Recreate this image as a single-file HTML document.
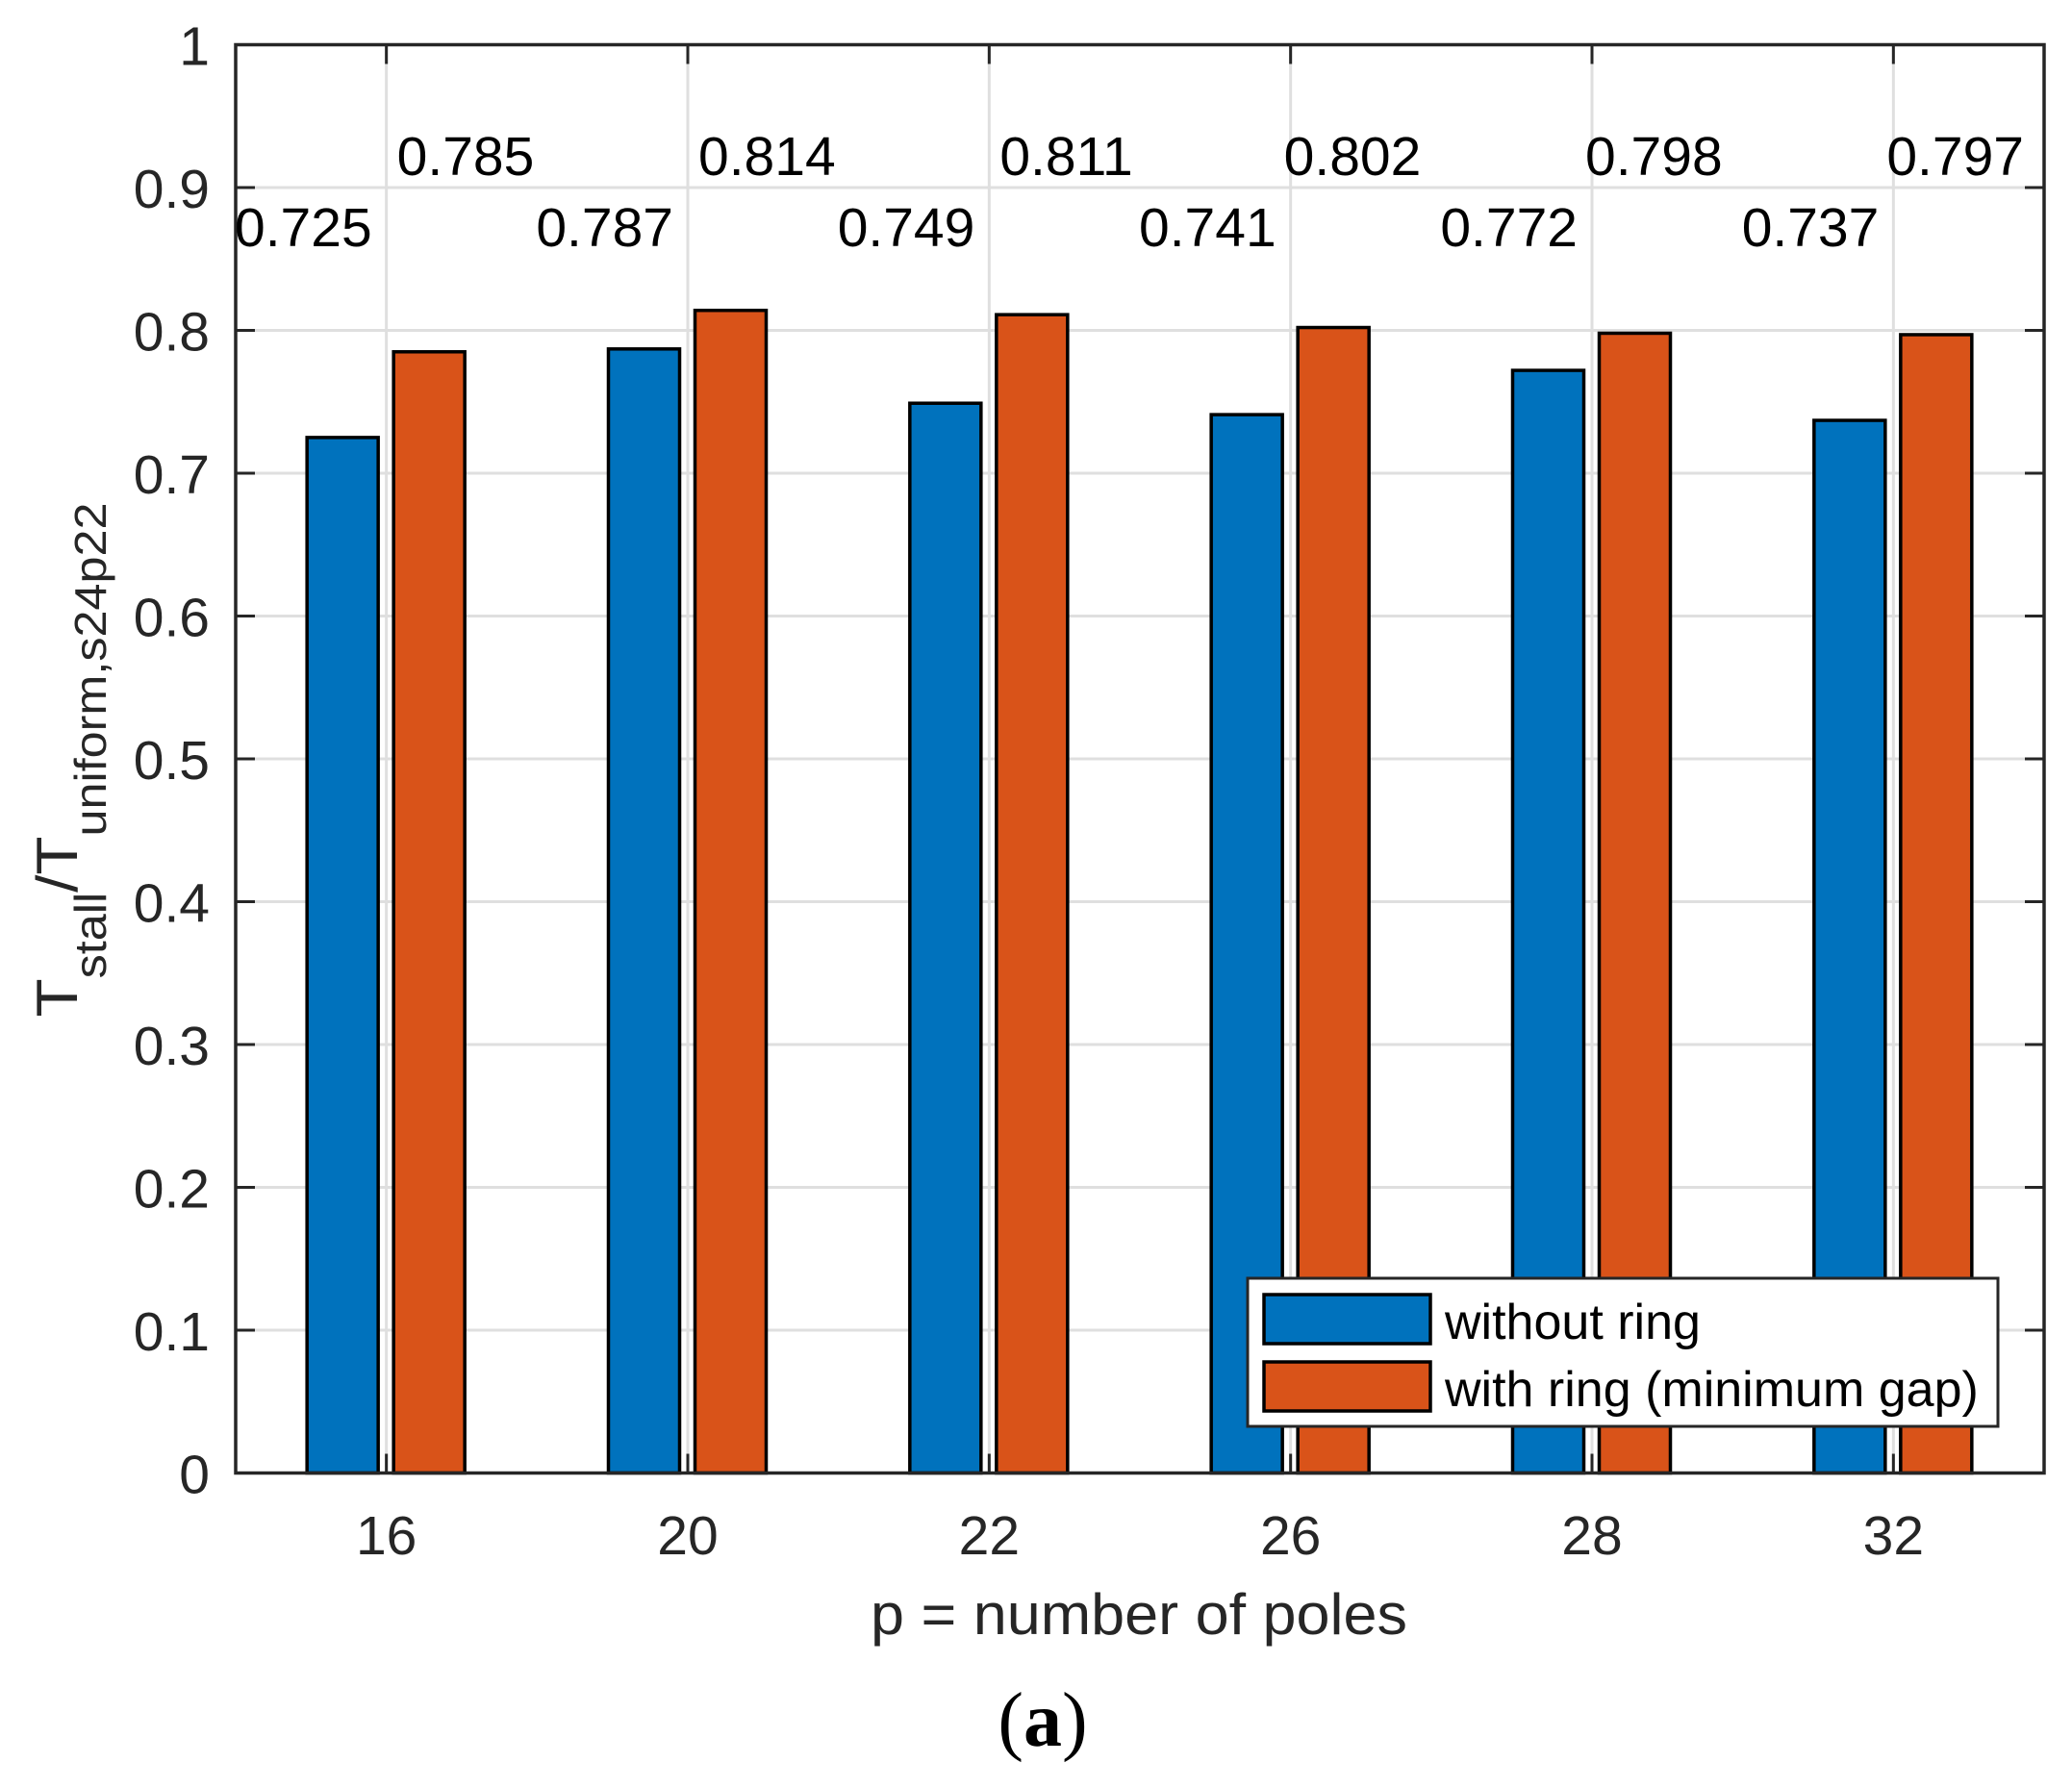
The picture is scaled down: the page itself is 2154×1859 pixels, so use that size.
<!DOCTYPE html>
<html><head><meta charset="utf-8"><title>Stall torque bar chart</title>
<style>
html,body{margin:0;padding:0;background:#fff;}
svg{display:block;}
text{font-family:"Liberation Sans",Arial,sans-serif;}
</style></head>
<body>
<svg id="chart" width="2154" height="1859" viewBox="0 0 2154 1859" xmlns="http://www.w3.org/2000/svg">
<rect x="0" y="0" width="2154" height="1859" fill="#fff"/>
<g id="grid"></g>
<g id="bars"></g>
<g id="axes"></g>
<g id="labels"></g>
<text transform="translate(80,790) rotate(-90)" text-anchor="middle" font-size="60" fill="#262626" textLength="535" lengthAdjust="spacingAndGlyphs">T<tspan font-size="46" dy="30">stall</tspan><tspan dy="-30">/T</tspan><tspan font-size="46" dy="30">uniform,s24p22</tspan></text>
<text x="1184" y="1699" text-anchor="middle" font-size="60" fill="#262626" textLength="558" lengthAdjust="spacingAndGlyphs">p = number of poles</text>
<text x="1084" y="1815" text-anchor="middle" font-size="80" fill="#000" style="font-family:'Liberation Serif',serif">(<tspan font-weight="bold">a</tspan>)</text>
<g>
<rect x="1297" y="1329" width="780" height="154" fill="#fff" stroke="#262626" stroke-width="3"/>
<rect x="1314" y="1346" width="173" height="51" fill="#0072bd" stroke="#000" stroke-width="3.5"/>
<text x="1502" y="1392" font-size="52" fill="#000">without ring</text>
<rect x="1314" y="1416" width="173" height="51" fill="#d95319" stroke="#000" stroke-width="3.5"/>
<text x="1502" y="1462" font-size="52" fill="#000">with ring (minimum gap)</text>
</g>
</svg>
<script>
const categories = ["16","20","22","26","28","32"];
const withoutRing = [0.725,0.787,0.749,0.741,0.772,0.737];
const withRing = [0.785,0.814,0.811,0.802,0.798,0.797];
const yTicks = [0,0.1,0.2,0.3,0.4,0.5,0.6,0.7,0.8,0.9,1];
const yTickLabels = ["0","0.1","0.2","0.3","0.4","0.5","0.6","0.7","0.8","0.9","1"];

const NS = "http://www.w3.org/2000/svg";
const L = 245, R = 2125, T = 46.5, B = 1531.5;
const n = categories.length;
const step = (R - L) / n;
function xPos(i){ return L + step * (i + 0.5); }
function yPos(v){ return B - (v - 0) / (1 - 0) * (B - T); }
function mk(tag, attrs, parent){
  const e = document.createElementNS(NS, tag);
  for (const k in attrs) e.setAttribute(k, attrs[k]);
  parent.appendChild(e);
  return e;
}
const grid = document.getElementById('grid');
const bars = document.getElementById('bars');
const axes = document.getElementById('axes');
const labels = document.getElementById('labels');

yTicks.forEach((v, i) => {
  const y = yPos(v);
  if (v > 0 && v < 1) {
    const g = mk('line', {x1:L, x2:R, y1:y, y2:y, stroke:'#dfdfdf', 'stroke-width':3}, grid);
    
    
  }
  const t1 = mk('line', {x1:L, x2:L+20, y1:y, y2:y, stroke:'#262626', 'stroke-width':3}, axes);
  
  
  const t2 = mk('line', {x1:R-20, x2:R, y1:y, y2:y, stroke:'#262626', 'stroke-width':3}, axes);
  
  
  const tl = mk('text', {x:218, y:y+21, 'text-anchor':'end', 'font-size':57, fill:'#262626'}, axes);
  tl.textContent = yTickLabels[i];
  
  
});

categories.forEach((c, i) => {
  const x = xPos(i);
  const g = mk('line', {x1:x, x2:x, y1:T, y2:B, stroke:'#dfdfdf', 'stroke-width':3}, grid);
  
  
  const tb = mk('line', {x1:x, x2:x, y1:B-20, y2:B, stroke:'#262626', 'stroke-width':3}, axes);
  
  
  const tt = mk('line', {x1:x, x2:x, y1:T, y2:T+20, stroke:'#262626', 'stroke-width':3}, axes);
  
  
  const xl = mk('text', {x:x, y:1616, 'text-anchor':'middle', 'font-size':57, fill:'#262626'}, axes);
  xl.textContent = c;
  
  

  const bw = 74;
  const yb = yPos(withoutRing[i]);
  const b1 = mk('rect', {x:x-45.5-bw/2, y:yb, width:bw, height:B-yb, fill:'#0072bd', stroke:'#000', 'stroke-width':3.5}, bars);
  
  
  const yo = yPos(withRing[i]);
  const b2 = mk('rect', {x:x+44.5-bw/2, y:yo, width:bw, height:B-yo, fill:'#d95319', stroke:'#000', 'stroke-width':3.5}, bars);
  
  

  const l1 = mk('text', {x:x-15, y:256, 'text-anchor':'end', 'font-size':57, fill:'#000'}, labels);
  l1.textContent = withoutRing[i].toFixed(3);
  
  
  const l2 = mk('text', {x:x + (i < 3 ? 11 : -7), y:182, 'text-anchor':'start', 'font-size':57, fill:'#000'}, labels);
  l2.textContent = withRing[i].toFixed(3);
  
  
});

const frame = mk('rect', {x:L, y:T, width:R-L, height:B-T, fill:'none', stroke:'#262626', 'stroke-width':3.5}, axes);


</script>
</body></html>
